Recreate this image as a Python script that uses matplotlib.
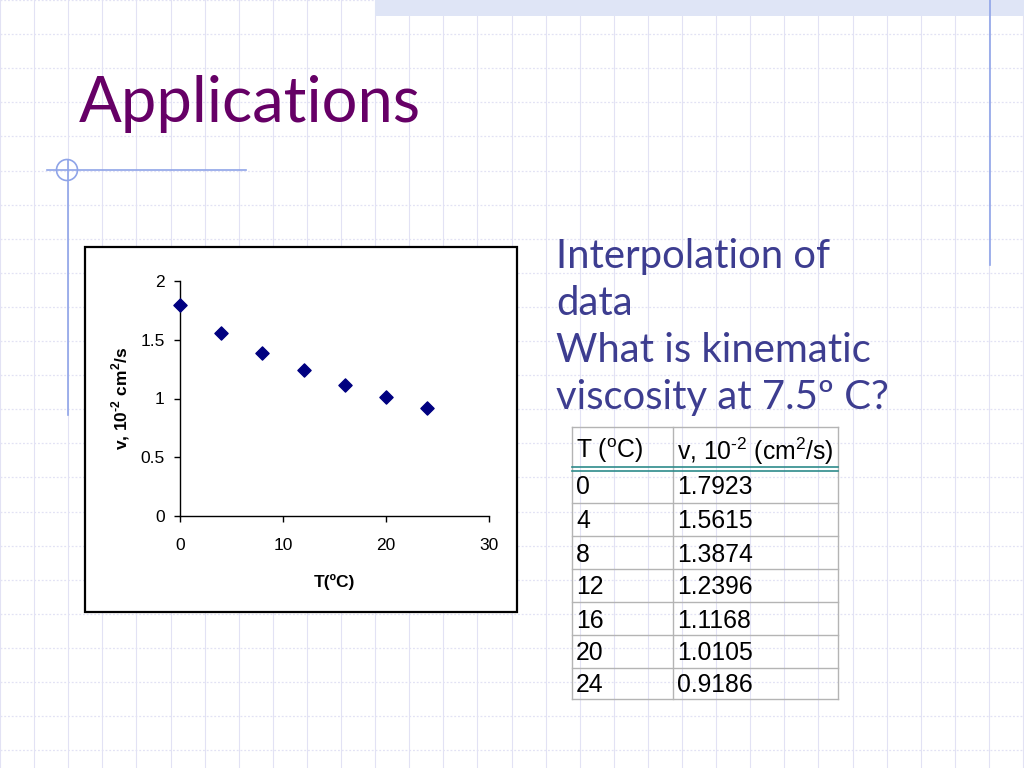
import matplotlib
matplotlib.use("Agg")
import matplotlib.pyplot as plt
from matplotlib.patches import Rectangle, Circle

plt.rcParams['mathtext.fontset'] = 'custom'
plt.rcParams['mathtext.rm'] = 'Liberation Sans'
plt.rcParams['mathtext.bf'] = 'Liberation Sans:bold'

# data
temps = [0, 4, 8, 12, 16, 20, 24]
visc = [1.7923, 1.5615, 1.3874, 1.2396, 1.1168, 1.0105, 0.9186]
x_ticks = [0, 10, 20, 30]
y_ticks = [0, 0.5, 1, 1.5, 2]
y_tick_labels = ["0", "0.5", "1", "1.5", "2"]

fig = plt.figure(figsize=(10.24, 7.68), dpi=100)

# slide background in pixel coordinates
bg = fig.add_axes([0, 0, 1, 1])
bg.set_xlim(0, 1024)
bg.set_ylim(768, 0)
bg.axis("off")

grid_col = "#e2e2f4"
step = 34.1
for i in range(31):
    bg.plot([i * step, i * step], [0, 768], color=grid_col, lw=0.8, zorder=0)
for i in range(23):
    bg.plot([0, 1024], [i * step, i * step], color=grid_col, lw=0.9,
            ls=(0, (1.5, 1.5)), zorder=0)

# top band and decorations
bg.add_patch(Rectangle((375, 0), 649, 16, facecolor="#dfe5f6", edgecolor="none", zorder=1))
bg.plot([990, 990], [0, 265], color="#8fa4e8", lw=1.2, zorder=2)
bg.plot([47, 246], [170, 170], color="#8fa4e8", lw=1.2, zorder=2)
bg.plot([68, 68], [160, 415], color="#8fa4e8", lw=1.2, zorder=2)
bg.add_patch(Circle((67, 170), 10.5, facecolor="none", edgecolor="#8fa4e8", lw=1.2, zorder=2))

# title
bg.text(79, 122, "Applications", color="#660066", fontsize=45.5, family="Lato",
        va="baseline", ha="left", zorder=3)

# right hand text
lines = ["Interpolation of", "data", "What is kinematic", "viscosity at 7.5º C?"]
for k, s in enumerate(lines):
    bg.text(556, 268 + k * 47, s, color="#3d3d90", fontsize=28.8, family="Lato",
            va="baseline", ha="left", zorder=3)

# chart box
bg.add_patch(Rectangle((85, 247), 432, 365, facecolor="white", edgecolor="black",
                       lw=1.6, zorder=2))

# table
col_x = [572, 673, 838]
row_y = [427, 468, 503, 536, 569, 602, 635, 668, 699]
tcol = "#b4b4b4"
for xx in col_x:
    bg.plot([xx, xx], [row_y[0], row_y[-1]], color=tcol, lw=1, zorder=3)
for yy in [row_y[0]] + row_y[2:]:
    bg.plot([col_x[0], col_x[-1]], [yy, yy], color=tcol, lw=1, zorder=3)
bg.plot([col_x[0], col_x[-1]], [467, 467], color="#2e8b8b", lw=1.2, zorder=3)
bg.plot([col_x[0], col_x[-1]], [470.5, 470.5], color="#2e8b8b", lw=1.2, zorder=3)

tfont = dict(fontsize=17.8, family="Liberation Sans", color="black", va="center",
             ha="left", zorder=4)
bg.text(576, 451, r"T ($^{\mathrm{o}}$C)", **tfont)
bg.text(677, 451, r"v, 10$^{\mathrm{‐2}}$ (cm$^{2}$/s)", **tfont)
for k, (t, v) in enumerate(zip(temps, visc)):
    yc = (row_y[k + 1] + row_y[k + 2]) / 2 + 2
    bg.text(576, yc, str(t), **tfont)
    bg.text(677, yc, f"{v:.4f}", **tfont)

# scatter chart
ax = fig.add_axes([180 / 1024, 1 - 516 / 768, 309 / 1024, 235 / 768])
ax.set_zorder(5)
ax.patch.set_alpha(0)
ax.scatter(temps, visc, marker="D", s=45, color="#000080", zorder=3, clip_on=False)
ax.set_xlim(0, 30)
ax.set_ylim(0, 2)
ax.set_xticks(x_ticks)
ax.set_yticks(y_ticks)
ax.set_yticklabels(y_tick_labels)
for side in ["top", "right"]:
    ax.spines[side].set_visible(False)
ax.spines["left"].set_linewidth(1)
ax.spines["bottom"].set_linewidth(1)
ax.tick_params(direction="out", length=4, width=1, labelsize=12.5, pad=7)
ax.tick_params(axis="x", pad=12)
for lab in ax.get_xticklabels() + ax.get_yticklabels():
    lab.set_family("Liberation Sans")
ax.set_xlabel("T(ºC)", fontsize=12.5, fontweight="bold", family="Liberation Sans", labelpad=15)
ax.set_ylabel(r"v, 10$^{\mathbf{‐2}}$ cm$^{\mathbf{2}}$/s", fontsize=12.5, fontweight="bold",
              family="Liberation Sans", labelpad=6)

fig.savefig("out.png", dpi=100)
